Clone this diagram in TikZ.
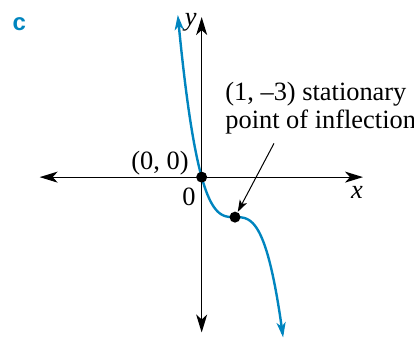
\documentclass[tikz,border=0pt]{standalone}
\usepackage{fontspec}
\setmainfont{Liberation Serif}
\setsansfont{Liberation Sans}
\usetikzlibrary{arrows.meta}
\definecolor{curveblue}{RGB}{0,133,191}
\tikzset{
	axisline/.style={line width=0.6pt, {Stealth[length=9pt,width=5.5pt,inset=2.5pt]}-{Stealth[length=9pt,width=5.5pt,inset=2.5pt]}},
	graphline/.style={curveblue, line width=1.2pt, {Stealth[length=7.5pt,width=4.5pt,inset=2pt]}-{Stealth[length=7.5pt,width=4.5pt,inset=2pt]}},
	dot/.style={circle, fill=black, inner sep=0pt, minimum size=5.5pt},
	every node/.style={font=\fontsize{13.2}{14}\selectfont}
}
\begin{document}
\begin{tikzpicture}[x=16.67pt, y=6.67pt]
					\useasboundingbox (-6.05,-12.25) rectangle (6.37,13.28);
					% axes
					\draw[axisline] (-4.86,0) -- (4.84,0);
					\draw[axisline] (0,-11.65) -- (0,12.0);
					\node (ylab) at (-0.33,11.6) {\textit{y}};
					\node (xlab) at (4.66,-1.15) {\textit{x}};
					\node (zero) at (-0.38,-1.45) {0};
					% the cubic y = -3(x-1)^3 - 3
					\draw[graphline, domain=-0.716:2.444, samples=120, smooth] plot (\x, {-3*(\x-1)^3-3});
					\node[dot] (p0) at (0,0) {};
					\node[dot] (p1) at (1,-3) {};
					\node (p0lab) at (-1.25,1.07) {(0, 0)};
					\node[align=left, anchor=north west, inner sep=0pt] (p1lab) at (0.70,7.12) {(1, --3) stationary\\point of inflection};
					\coordinate (tail) at (2.17,2.53);
					\draw[line width=0.5pt, -{Stealth[length=6pt,width=4pt,inset=1.5pt]}] (tail) -- (p1);
					\node[font=\fontsize{12}{13}\sffamily\bfseries, text=curveblue] (partc) at (-5.47,11.45) {c};
				\end{tikzpicture}
\end{document}
